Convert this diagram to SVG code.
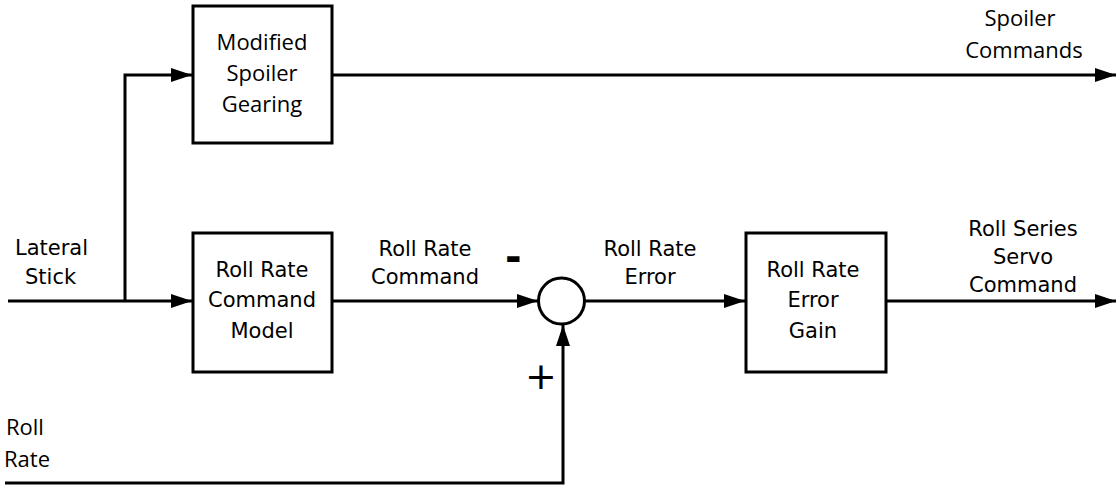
<svg xmlns="http://www.w3.org/2000/svg" width="1120" height="486" viewBox="0 0 1120 486">
<style>
.box{fill:#fff;stroke:#000;stroke-width:3}
.ln{fill:none;stroke:#000;stroke-width:3}
.g{font-family:"DejaVu Sans",Verdana,sans-serif;font-size:21px;fill:#000}
.o{font-family:"Open Sans","Liberation Sans",sans-serif;font-size:22px;fill:#000}
.m{text-anchor:middle}
</style>
<defs>
<marker id="ah" markerWidth="21" markerHeight="14" refX="21" refY="7" orient="auto" markerUnits="userSpaceOnUse">
<path d="M0,0 L21,7 L0,14 Z" fill="#000"/>
</marker>
</defs>
<rect width="1120" height="486" fill="#fff"/>
<g id="connectors">
<path class="ln" d="M8,301 H192" marker-end="url(#ah)"/>
<path class="ln" d="M125,301 V75 H192" marker-end="url(#ah)"/>
<path class="ln" d="M332,75 H1116" marker-end="url(#ah)"/>
<path class="ln" d="M332,301 H538" marker-end="url(#ah)"/>
<path class="ln" d="M5,483 H563 V325" marker-end="url(#ah)"/>
<path class="ln" d="M585,301 H745" marker-end="url(#ah)"/>
<path class="ln" d="M886,301 H1116" marker-end="url(#ah)"/>
</g>
<g id="spoiler-gearing">
<rect class="box" x="193" y="6" width="139" height="137"/>
<text class="o m" x="262" y="50">Modified</text>
<text class="o m" x="262" y="81">Spoiler</text>
<text class="o m" x="262" y="112">Gearing</text>
</g>
<g id="command-model">
<rect class="box" x="193" y="233" width="139" height="139"/>
<text class="g m" x="262" y="277">Roll Rate</text>
<text class="g m" x="262" y="307">Command</text>
<text class="g m" x="262" y="338">Model</text>
</g>
<g id="sum">
<circle cx="561.5" cy="301" r="23" fill="#fff" stroke="#000" stroke-width="3"/>
<text x="505" y="271" style="font-family:'DejaVu Sans',sans-serif;font-size:40px;font-weight:bold">-</text>
<text x="541" y="389" style="font-family:'DejaVu Sans',sans-serif;font-size:38px;text-anchor:middle">+</text>
</g>
<g id="error-gain">
<rect class="box" x="746" y="233" width="140" height="139"/>
<text class="g m" x="813" y="277">Roll Rate</text>
<text class="g m" x="813" y="307">Error</text>
<text class="g m" x="813" y="338">Gain</text>
</g>
<g id="labels">
<text class="g" x="15" y="255">Lateral</text>
<text class="g" x="25" y="284">Stick</text>
<text class="g m" x="425" y="256">Roll Rate</text>
<text class="g m" x="425" y="284">Command</text>
<text class="g m" x="650" y="256">Roll Rate</text>
<text class="g m" x="650" y="284">Error</text>
<text class="g m" x="1023" y="236">Roll Series</text>
<text class="g m" x="1023" y="264">Servo</text>
<text class="g m" x="1023" y="292">Command</text>
<text class="o m" x="1020" y="26">Spoiler</text>
<text class="o m" x="1024" y="58">Commands</text>
<text class="o" x="6" y="435">Roll</text>
<text class="o" x="4" y="467">Rate</text>
</g>
</svg>
